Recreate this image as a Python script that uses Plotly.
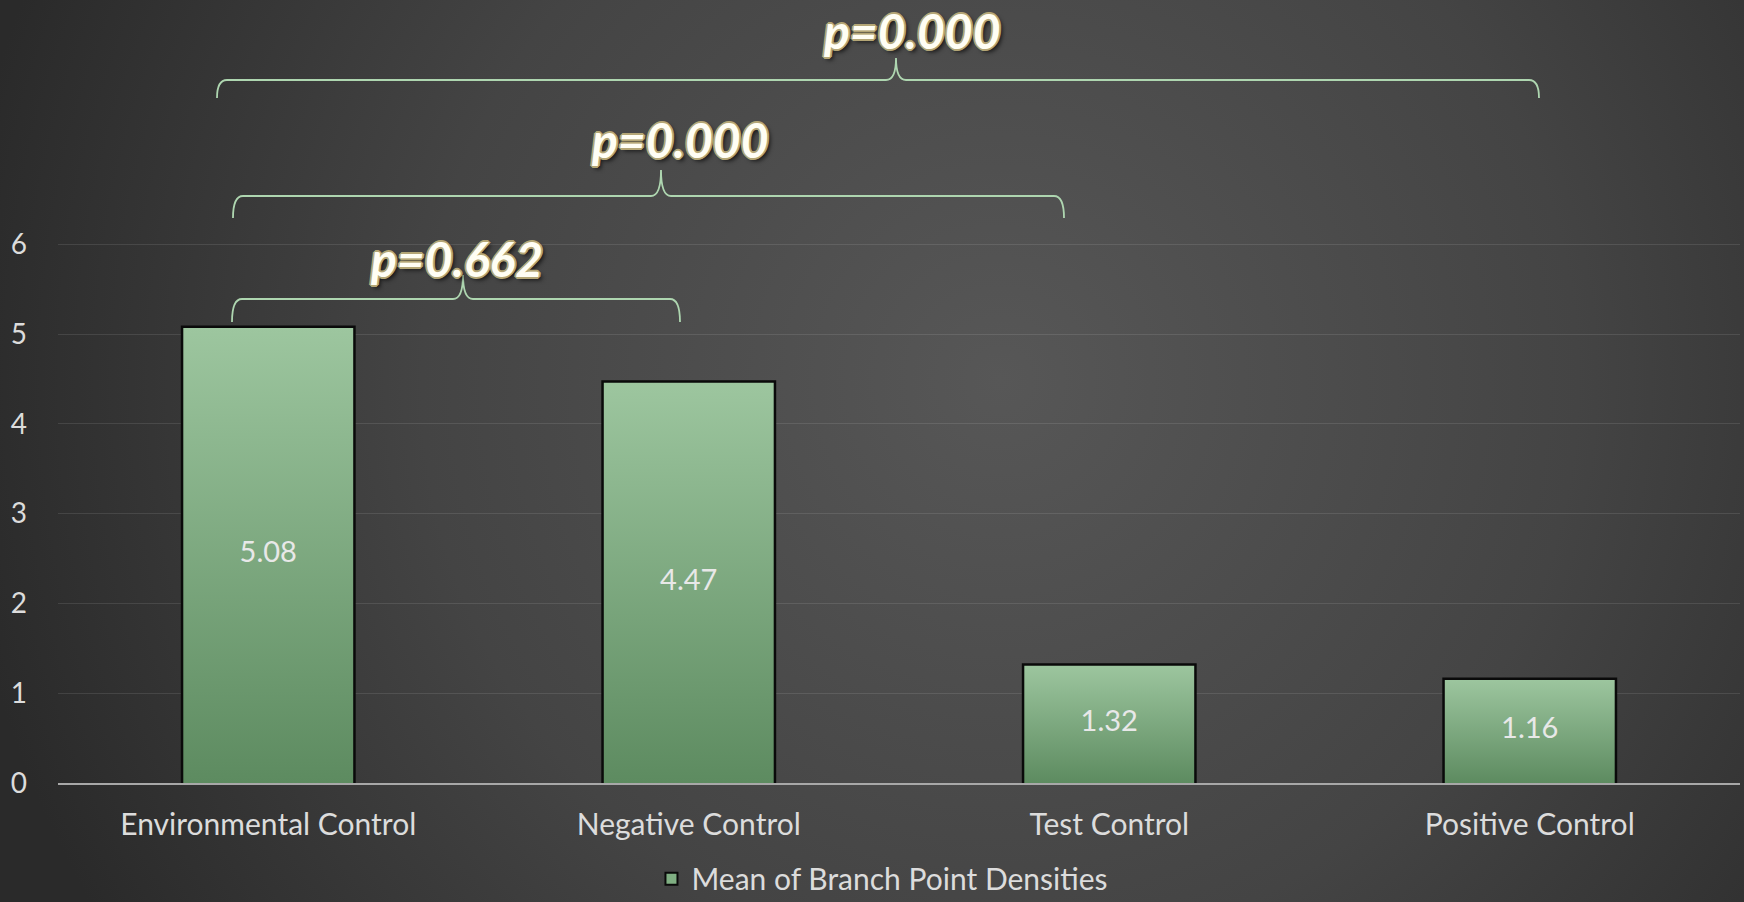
import base64
import plotly.graph_objects as go

# ---------------- data ----------------
categories = ["Environmental Control", "Negative Control", "Test Control", "Positive Control"]
means = [5.08, 4.47, 1.32, 1.16]
value_labels = ["5.08", "4.47", "1.32", "1.16"]
y_ticks = [0, 1, 2, 3, 4, 5, 6]
series_name = "Mean of Branch Point Densities"
p_values = ["p=0.662", "p=0.000", "p=0.000"]

# ---------------- layout constants ----------------
W, H = 1744, 902
PLOT_L, PLOT_R = 58, 1740
AXIS_Y = 783
PX_PER_UNIT = 89.8
BAR_W = 0.41

FONT = "Lato"
TXT = "#dcdcdc"

# background radial gradient as svg image
svg = f'''<svg xmlns="http://www.w3.org/2000/svg" width="{W}" height="{H}" viewBox="0 0 {W} {H}" preserveAspectRatio="none">
<defs><radialGradient id="g" gradientUnits="userSpaceOnUse" cx="1000" cy="380" r="1050">
<stop offset="0" stop-color="#575757"/><stop offset="0.55" stop-color="#444444"/><stop offset="1" stop-color="#2a2a2a"/>
</radialGradient></defs><rect x="0" y="0" width="{W}" height="{H}" fill="url(#g)"/></svg>'''
bg_uri = "data:image/svg+xml;base64," + base64.b64encode(svg.encode()).decode()

fig = go.Figure()

# legend-only entry (square swatch)
fig.add_trace(go.Bar(
    x=[None], y=[None], name=series_name,
    marker=dict(color="#7fae82", line=dict(color="#0a0a0a", width=2)),
    showlegend=True, hoverinfo="skip",
))

# bars drawn as gradient-filled polygons from the data
for i, (cat, v) in enumerate(zip(categories, means)):
    h = BAR_W / 2
    fig.add_trace(go.Scatter(
        x=[i - h, i - h, i + h, i + h],
        y=[0, v, v, 0],
        mode="lines",
        fill="toself",
        fillgradient=dict(type="vertical",
                          colorscale=[[0, "#5d8b60"], [1, "#9dc69f"]]),
        line=dict(color="#0a0a0a", width=2.5),
        name=cat,
        showlegend=False,
        hoverinfo="skip",
    ))

# value labels centered in bars
fig.add_trace(go.Scatter(
    x=list(range(len(categories))),
    y=[v / 2 for v in means],
    mode="text",
    text=value_labels,
    textfont=dict(family=FONT, size=29, color="#e8e8e8"),
    showlegend=False,
    hoverinfo="skip",
))

# brackets (in data coords)
def px_x(px):
    return (px - PLOT_L) / ((PLOT_R - PLOT_L) / 4) - 0.5

def px_y(py):
    return (AXIS_Y - py) / PX_PER_UNIT

brackets = [
    # xl, xr, xc, y_leg_bottom, y_horiz, y_peak, text_x, text_y
    (232, 680, 463, 322, 299, 275, 456, 258),
    (233, 1064, 661, 218, 196, 170, 680, 139),
    (217, 1539, 896, 98, 80, 58, 912, 30),
]
OUT = "#b4a676"
outline = ", ".join(f"{dx}px {dy}px 0 {OUT}" for dx, dy in
                    [(1, 0), (-1, 0), (0, 1), (0, -1), (1, 1), (-1, -1), (1, -1), (-1, 1),
                     (2, 0), (-2, 0), (0, 2), (0, -2)])
shadow = outline + ", 3px 3px 4px rgba(0,0,0,0.7)"

shapes = []
annotations = []
rx = 10 * 4 / (PLOT_R - PLOT_L)
for (xl, xr, xc, yb, yh, yp, tx, ty), ptxt in zip(brackets, p_values):
    XL, XR, XC = px_x(xl), px_x(xr), px_x(xc)
    YB, YH, YP = px_y(yb), px_y(yh), px_y(yp)
    path = (f"M {XL},{YB} Q {XL},{YH} {XL+rx},{YH} L {XC-rx},{YH} "
            f"Q {XC},{YH} {XC},{YP} Q {XC},{YH} {XC+rx},{YH} "
            f"L {XR-rx},{YH} Q {XR},{YH} {XR},{YB}")
    shapes.append(dict(type="path", path=path, xref="x", yref="y",
                       line=dict(color="#aed6b0", width=1.8), layer="above"))
    annotations.append(dict(
        x=px_x(tx), y=px_y(ty), xref="x", yref="y", text=ptxt, showarrow=False,
        font=dict(family="Lato", size=48, color="#fffef4", weight=700, style="italic",
                  shadow=shadow),
        xanchor="center", yanchor="middle"))

fig.update_layout(
    width=W, height=H,
    margin=dict(l=0, r=0, t=0, b=0, autoexpand=False),
    paper_bgcolor="#2c2c2c",
    plot_bgcolor="rgba(0,0,0,0)",
    images=[dict(source=bg_uri, xref="paper", yref="paper", x=0, y=1, sizex=1, sizey=1,
                 xanchor="left", yanchor="top", sizing="stretch", layer="below")],
    shapes=shapes,
    annotations=annotations,
    showlegend=True,
    legend=dict(orientation="h", x=0.506, xanchor="center", y=-0.003, yanchor="bottom",
                font=dict(family=FONT, size=30, color=TXT), bgcolor="rgba(0,0,0,0)",
                itemwidth=30),
    xaxis=dict(
        domain=[PLOT_L / W, PLOT_R / W],
        range=[-0.5, 3.5],
        tickvals=list(range(len(categories))),
        ticktext=categories,
        showgrid=False, zeroline=False,
        showline=True, linecolor="#a8a8a8", linewidth=2,
        ticks="", ticklabelstandoff=14,
        tickfont=dict(family=FONT, size=30, color=TXT),
        automargin=False,
        fixedrange=True,
    ),
    yaxis=dict(
        domain=[(H - AXIS_Y) / H, 1],
        range=[0, AXIS_Y / PX_PER_UNIT],
        tickvals=y_ticks,
        showgrid=True, gridcolor="rgba(255,255,255,0.10)", gridwidth=1.2,
        zeroline=False, showline=False,
        ticks="", ticklabelstandoff=30,
        tickfont=dict(family=FONT, size=28, color=TXT),
        automargin=False,
        fixedrange=True,
    ),
)

fig.write_html("out.html")
